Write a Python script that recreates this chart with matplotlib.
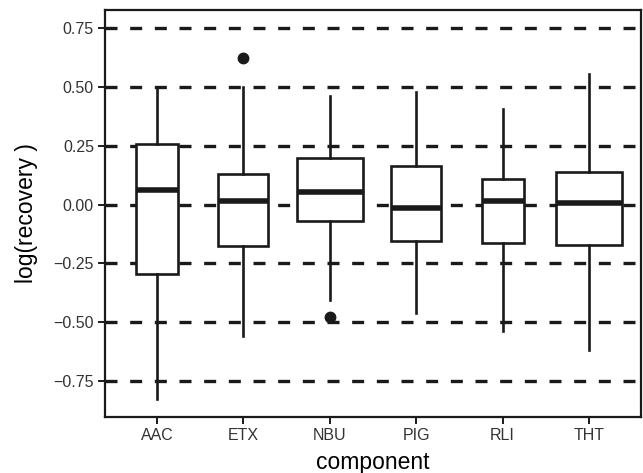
import numpy as np
import matplotlib.pyplot as plt

# log(recovery) by component
components = ["AAC", "ETX", "NBU", "PIG", "RLI", "THT"]
whisker_low = [-0.825, -0.558, -0.405, -0.46, -0.537, -0.62]
q1 = [-0.297, -0.178, -0.068, -0.153, -0.165, -0.17]
median = [0.06, 0.013, 0.052, -0.013, 0.013, 0.008]
q3 = [0.256, 0.128, 0.196, 0.163, 0.107, 0.14]
whisker_high = [0.50, 0.50, 0.46, 0.48, 0.406, 0.554]
outliers = [[], [0.625], [-0.476], [], [], []]
box_widths = [0.49, 0.575, 0.76, 0.575, 0.49, 0.76]
yticks = [-0.75, -0.50, -0.25, 0.00, 0.25, 0.50, 0.75]

plt.rcParams['font.family'] = ['Liberation Sans', 'DejaVu Sans']

fig = plt.figure(figsize=(6.43, 4.73), dpi=100)
ax = fig.add_axes([0.1633, 0.1184, 0.8336, 0.8605])

# dashed reference lines behind the boxes
for y in yticks:
    ax.axhline(y, color="#1a1a1a", linewidth=2.4, dashes=(3.6, 3.8), zorder=0)

stats = []
for i, name in enumerate(components):
    stats.append({
        "label": name, "whislo": whisker_low[i], "q1": q1[i], "med": median[i],
        "q3": q3[i], "whishi": whisker_high[i], "fliers": outliers[i],
    })

ax.bxp(stats, positions=np.arange(1, len(components) + 1), widths=box_widths,
       patch_artist=True, showcaps=False,
       boxprops=dict(facecolor="white", edgecolor="#1a1a1a", linewidth=1.9),
       medianprops=dict(color="#1a1a1a", linewidth=4.0, solid_capstyle="butt"),
       whiskerprops=dict(color="#1a1a1a", linewidth=1.9),
       flierprops=dict(marker="o", markerfacecolor="#1a1a1a",
                       markeredgecolor="#1a1a1a", markersize=7.5))

ax.set_xlim(0.4, 6.6)
ax.set_ylim(-0.903, 0.827)
ax.set_yticks(yticks)
ax.set_yticklabels(["\u22120.75", "\u22120.50", "\u22120.25", "0.00", "0.25", "0.50", "0.75"])
ax.set_xticks(np.arange(1, len(components) + 1))
ax.set_xticklabels(components)

ax.tick_params(axis="both", direction="out", length=5, width=1.4,
               color="#1a1a1a", labelsize=11.5, labelcolor="#333333", pad=3)
for s in ax.spines.values():
    s.set_linewidth(1.6)
    s.set_color("#1a1a1a")

ax.set_xlabel("component", fontsize=16.5, labelpad=6)
ax.set_ylabel("log(recovery )", fontsize=16.5, labelpad=11)

fig.savefig("out.png", dpi=100)
